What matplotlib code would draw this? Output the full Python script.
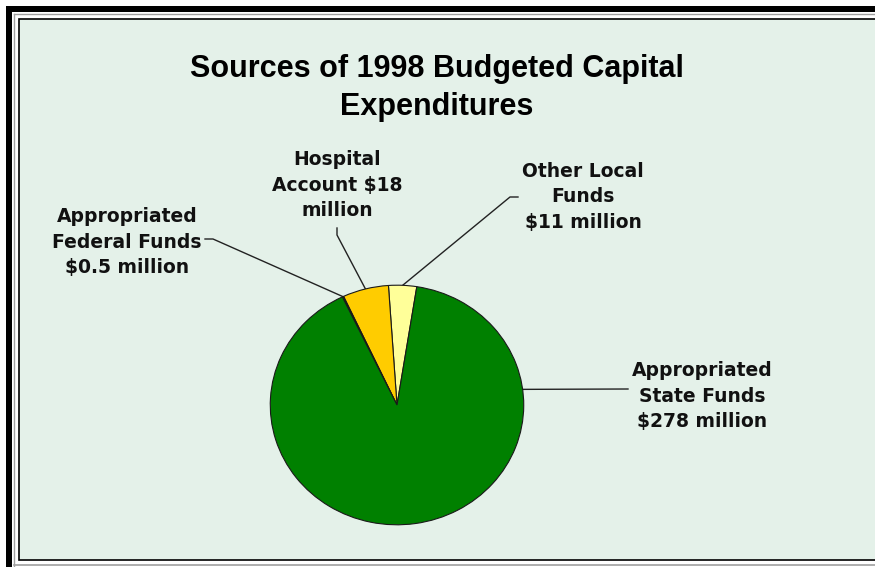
import numpy as np
import matplotlib
matplotlib.use('Agg')
import matplotlib.pyplot as plt
from matplotlib.patches import Rectangle

# dados (sentido anti-horario a partir da fatia "Other Local")
fontes = ['Other Local Funds', 'Hospital Account', 'Appropriated Federal Funds',
          'Appropriated State Funds']
valores = [11, 18, 0.5, 278]
rotulos = ['Other Local\nFunds\n$11 million',
           'Hospital\nAccount $18\nmillion',
           'Appropriated\nFederal Funds\n$0.5 million',
           'Appropriated\nState Funds\n$278 million']
cores = ['#FFFF99', '#FFCC00', '#006000', '#008000']
titulo = ['Sources of 1998 Budgeted Capital', 'Expenditures']

W, H = 875, 567
fig = plt.figure(figsize=(W / 100, H / 100), dpi=100, facecolor='white')

# eixo de fundo em pixels (origem no topo)
bg = fig.add_axes([0, 0, 1, 1])
bg.set_xlim(0, W)
bg.set_ylim(H, 0)
bg.axis('off')

# moldura
bg.add_patch(Rectangle((6, 6), W, 6, facecolor='black', edgecolor='none'))
bg.add_patch(Rectangle((6, 6), 6, H, facecolor='black', edgecolor='none'))
bg.plot([14, 14], [14, H], color='#a0a0a0', lw=1)
bg.plot([14, W], [14, 14], color='#a0a0a0', lw=1)
bg.plot([14, W], [564.5, 564.5], color='#a0a0a0', lw=1.2)
bg.add_patch(Rectangle((18.5, 18.5), W, 541, facecolor='#E4F1E9',
                       edgecolor='black', lw=1.2))

# titulo (duas linhas, pela linha de base)
for linha, yb in zip(titulo, [77, 115]):
    bg.text(437, yb, linha, ha='center', va='baseline', fontsize=22,
            fontweight='bold', family='Liberation Sans', color='black')

# pizza
cx, cy, rx, ry = 397, 405, 128, 121
ax = fig.add_axes([(cx - rx) / W, (H - cy - ry) / H, 2 * rx / W, 2 * ry / H])
wedges, _ = ax.pie(valores, colors=cores, startangle=81, counterclock=True,
                   wedgeprops=dict(edgecolor='#1a1a1a', linewidth=0.8))
ax.set_xlim(-1.01, 1.01)
ax.set_ylim(-1.01, 1.01)
ax.set_aspect('auto')
ax.axis('off')

def pontoPizza(ang):
    a = np.deg2rad(ang)
    disp = ax.transData.transform((np.cos(a), np.sin(a)))
    return bg.transData.inverted().transform(disp)

angs = [(w.theta1 + w.theta2) / 2 for w in wedges]
angs[3] = 7.5  # linha do estado vai para o lado direito

# posicao dos rotulos e inicio das linhas guia
pos_rot = [(583, 197), (337, 185), (127, 242), (702, 396)]
guias = [[(518, 197), (510, 197)],
         [(337, 228), (337, 235)],
         [(205, 239), (213, 239)],
         [(628, 389)]]

for rot, (lx, ly), g, ang in zip(rotulos, pos_rot, guias, angs):
    bg.text(lx, ly, rot, ha='center', va='center', fontsize=13.5,
            fontweight='bold', family='DejaVu Sans', linespacing=1.45,
            color='#111111')
    px, py = pontoPizza(ang)
    xs = [p[0] for p in g] + [px]
    ys = [p[1] for p in g] + [py]
    bg.plot(xs, ys, color='#222222', lw=1)

plt.savefig('out.png', dpi=100, facecolor='white')
plt.close()
